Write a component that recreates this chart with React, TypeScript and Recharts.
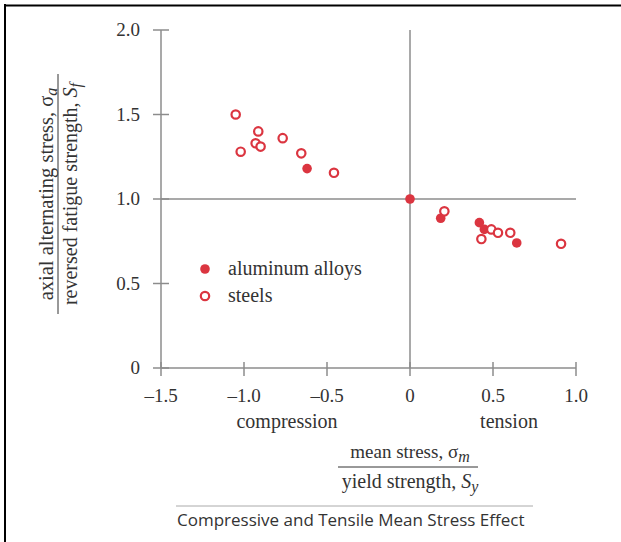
import { ScatterChart, Scatter, XAxis, YAxis, ReferenceLine, Legend } from 'recharts'

// mean stress / yield strength  vs  alternating stress / reversed fatigue strength
const aluminumMean = [-0.62, 0, 0.185, 0.418, 0.448, 0.643]
const aluminumAlt = [1.18, 1.0, 0.886, 0.86, 0.82, 0.74]

const steelMean = [-1.05, -0.914, -0.767, -1.02, -0.93, -0.9, -0.655, -0.458, 0.207, 0.49, 0.53, 0.43, 0.604, 0.91]
const steelAlt = [1.5, 1.4, 1.36, 1.28, 1.33, 1.31, 1.27, 1.155, 0.927, 0.82, 0.8, 0.763, 0.8, 0.735]

const xTicks = [-1.5, -1.0, -0.5, 0, 0.5, 1.0]
const yTicks = [0, 0.5, 1.0, 1.5, 2.0]

const aluminumData = aluminumMean.map((x, i) => ({ x, y: aluminumAlt[i] }))
const steelData = steelMean.map((x, i) => ({ x, y: steelAlt[i] }))

const RED = '#db3540'
const AXIS = '#8c8c8c'
const TEXT = '#333'
const SERIF = '"Liberation Serif", "DejaVu Serif", serif'

const fmt = (v: number) => (v === 0 ? '0' : (v < 0 ? '\u2013' : '') + Math.abs(v).toFixed(1))

const Dot = (props: any) => <circle cx={props.cx} cy={props.cy} r={4.8} fill={RED} />
const Ring = (props: any) => (
  <circle cx={props.cx} cy={props.cy} r={4.2} fill="#fff" stroke={RED} strokeWidth={2.2} />
)

// tick offsets: tickSize=0 and tickMargin=0 so x/y land on the axis line
const XTick = ({ x, y, payload }: any) => (
  <g>
    <line x1={x} x2={x} y1={y - 6} y2={y + 8} stroke={AXIS} strokeWidth={1.5} />
    <text x={x} y={y + 34} textAnchor="middle" fontFamily={SERIF} fontSize={19} fill={TEXT}>
      {fmt(payload.value)}
    </text>
  </g>
)

const YTick = ({ x, y, payload }: any) => (
  <g>
    <line x1={x - 8} x2={x + 8} y1={y} y2={y} stroke={AXIS} strokeWidth={1.5} />
    <text x={x - 21} y={y + 6} textAnchor="end" fontFamily={SERIF} fontSize={19} fill={TEXT}>
      {fmt(payload.value)}
    </text>
  </g>
)

const legendText = { fontFamily: SERIF, fontSize: 20, color: TEXT }

const LegendContent = () => (
  <div style={{ lineHeight: '27px' }}>
    <div style={{ display: 'flex', alignItems: 'center' }}>
      <svg width={36} height={12}><circle cx={13} cy={6} r={4.8} fill={RED} /></svg>
      <span style={legendText}>aluminum alloys</span>
    </div>
    <div style={{ display: 'flex', alignItems: 'center' }}>
      <svg width={36} height={12}><circle cx={13} cy={6} r={4.2} fill="#fff" stroke={RED} strokeWidth={2.2} /></svg>
      <span style={legendText}>steels</span>
    </div>
  </div>
)

export default function App() {
  return (
    <div style={{ position: 'absolute', left: 0, top: 0, width: 621, height: 542, background: '#fff' }}>
      <ScatterChart
        width={621}
        height={542}
        margin={{ top: 30, right: 45, bottom: 134, left: 101 }}
      >
        <XAxis
          type="number"
          dataKey="x"
          domain={[-1.5, 1.0]}
          ticks={xTicks}
          height={40}
          tickSize={0}
          tickMargin={0}
          tickLine={false}
          tick={<XTick />}
          axisLine={{ stroke: AXIS, strokeWidth: 1.5 }}
          allowDataOverflow
        />
        <YAxis
          type="number"
          dataKey="y"
          domain={[0, 2]}
          ticks={yTicks}
          width={60}
          tickSize={0}
          tickMargin={0}
          tickLine={false}
          tick={<YTick />}
          axisLine={{ stroke: AXIS, strokeWidth: 1.5 }}
          allowDataOverflow
        />
        <ReferenceLine x={0} stroke={AXIS} strokeWidth={1.5} />
        <ReferenceLine y={1} stroke={AXIS} strokeWidth={1.5} />
        <Legend
          layout="vertical"
          align="center"
          verticalAlign="middle"
          content={<LegendContent />}
          wrapperStyle={{ left: 192, top: 255, width: 240 }}
        />
        <Scatter name="aluminum alloys" data={aluminumData} shape={Dot} isAnimationActive={false} />
        <Scatter name="steels" data={steelData} shape={Ring} isAnimationActive={false} />
      </ScatterChart>

      <svg
        width={621}
        height={542}
        style={{ position: 'absolute', left: 0, top: 0, pointerEvents: 'none' }}
      >
        <line x1={4} x2={621} y1={5.5} y2={5.5} stroke="#000" strokeWidth={2} />
        <line x1={5} x2={5} y1={4} y2={542} stroke="#000" strokeWidth={2} />

        <g fontFamily={SERIF} fontSize={20} fill={TEXT}>
          <text x={287} y={428} textAnchor="middle">compression</text>
          <text x={509} y={428} textAnchor="middle">tension</text>

          <g transform="rotate(-90, 58, 194)">
            <text x={58} y={189} textAnchor="middle" fontSize={20.5}>
              axial alternating stress, σ<tspan dy={4} fontSize={16} fontStyle="italic">a</tspan>
            </text>
            <line x1={-62} x2={178} y1={194} y2={194} stroke={TEXT} strokeWidth={1} />
            <text x={58} y={213} textAnchor="middle">
              reversed fatigue strength, <tspan fontStyle="italic">S</tspan>
              <tspan dy={4} fontSize={16} fontStyle="italic">f</tspan>
            </text>
          </g>

          <text x={410} y={458} textAnchor="middle" fontSize={19}>
            mean stress, σ<tspan dy={4} fontSize={16} fontStyle="italic">m</tspan>
          </text>
          <line x1={338} x2={478} y1={467} y2={467} stroke={TEXT} strokeWidth={1} />
          <text x={410} y={488} textAnchor="middle">
            yield strength, <tspan fontStyle="italic">S</tspan>
            <tspan dy={4} fontSize={16} fontStyle="italic">y</tspan>
          </text>
        </g>

        <line x1={176} x2={533} y1={506} y2={506} stroke="#aaa" strokeWidth={1} />
        <text x={177} y={526} fontFamily='"Open Sans", sans-serif' fontSize={17} fill={TEXT}>
          Compressive and Tensile Mean Stress Effect
        </text>
      </svg>
    </div>
  )
}
